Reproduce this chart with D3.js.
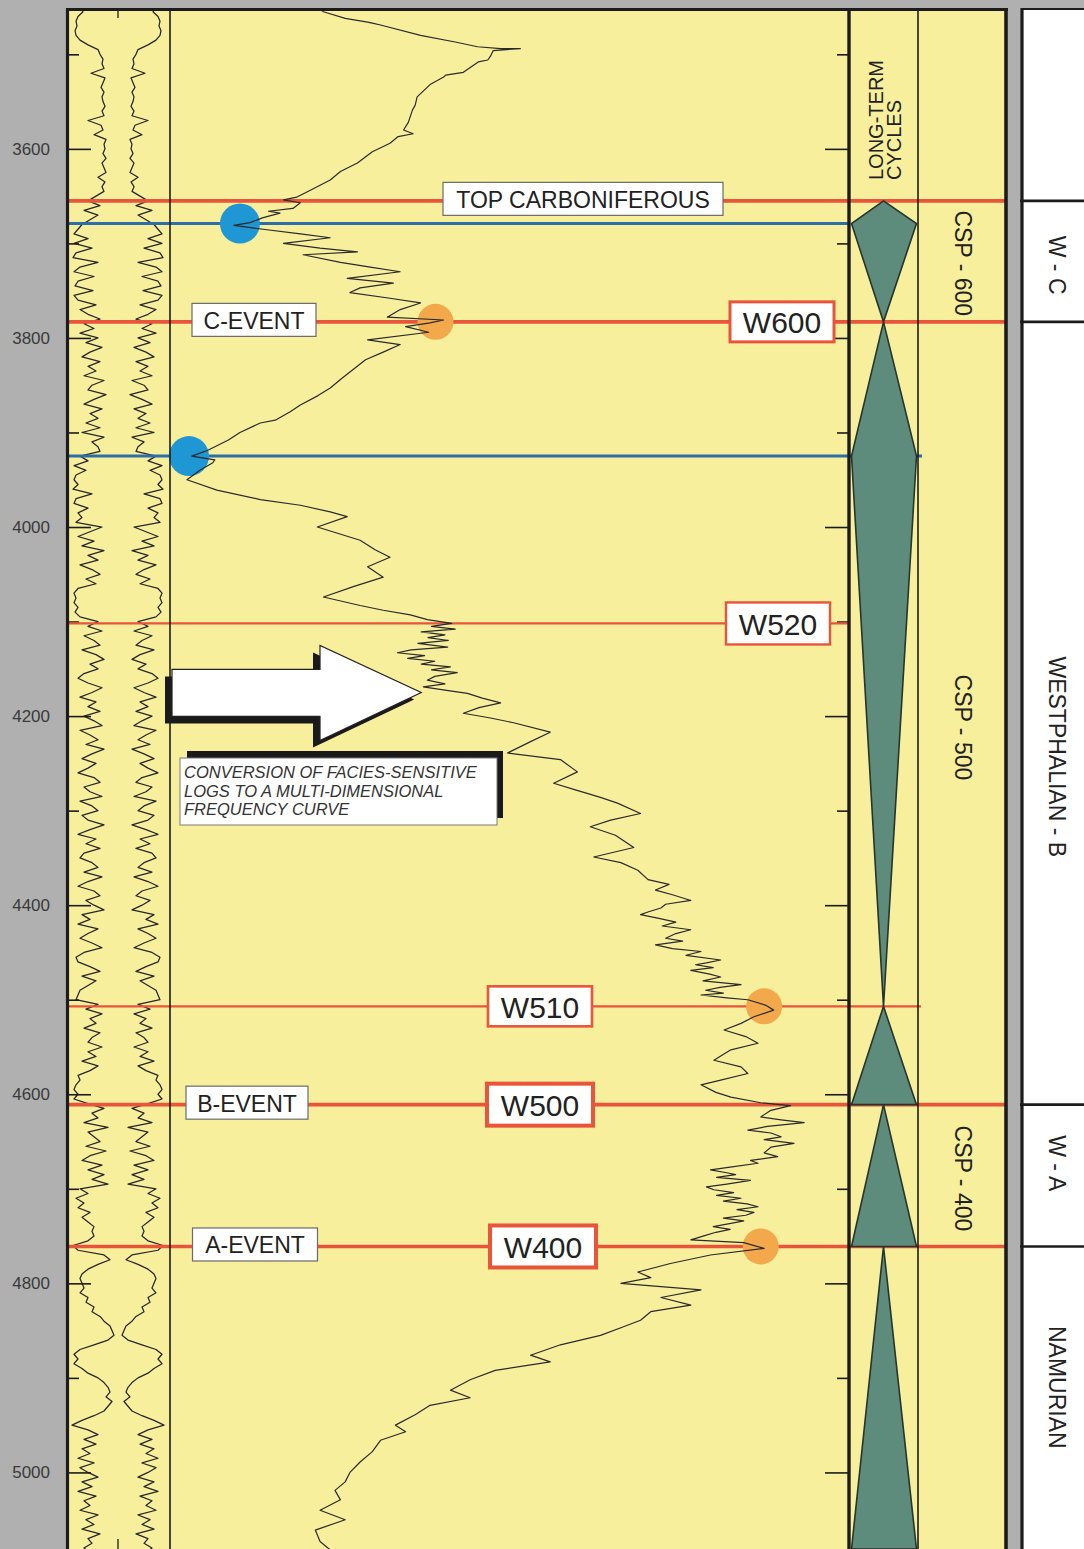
<!DOCTYPE html>
<html>
<head>
<meta charset="utf-8">
<script src="https://cdn.jsdelivr.net/npm/d3@7"></script>
<style>
  html, body { margin: 0; padding: 0; background: #b2b2b2; }
  svg { display: block; font-family: "Liberation Sans", Arial, sans-serif; }
</style>
</head>
<body>
<svg id="chart" width="1084" height="1549"></svg>
<script>
// ---------------------------------------------------------------
// Well section: facies log, frequency curve, long-term cycles,
// composite sequences (CSP) and chronostratigraphic stages.
// ---------------------------------------------------------------

// depth window of the section (m)
const depthRange = [3451, 5081];
const labelledDepths = [3600, 3800, 4000, 4200, 4400, 4600, 4800, 5000];
const unlabelledDepths = [3500, 3700, 3900, 4100, 4300, 4500, 4700, 4900];

// facies-sensitive log, sampled every 5 m from 3450 m (half-width, mirrored)
const logStart = 3450;
const logStep = 5;
const logValues = [
  38, 35, 40, 42, 41, 43, 42, 38, 30, 20,
  18, 15, 16, 14, 27, 13, 15, 17, 14, 16,
  15, 13, 16, 14, 30, 17, 15, 24, 12, 14,
  13, 15, 12, 16, 14, 12, 20, 13, 16, 14,
  22, 30, 18, 34, 20, 28, 36, 40, 44, 30,
  44, 26, 42, 45, 20, 38, 44, 24, 40, 43,
  25, 44, 40, 22, 38, 30, 18, 34, 24, 38,
  20, 32, 16, 28, 36, 18, 30, 22, 34, 14,
  26, 30, 12, 24, 34, 16, 28, 20, 32, 18,
  36, 14, 26, 20, 18, 38, 30, 44, 32, 42,
  44, 40, 45, 26, 42, 44, 30, 40, 36, 42,
  16, 28, 40, 24, 36, 14, 30, 20, 38, 26,
  18, 32, 22, 40, 44, 42, 44, 40, 43, 38,
  20, 30, 16, 34, 24, 18, 36, 22, 14, 28,
  20, 34, 40, 30, 16, 26, 38, 22, 30, 18,
  34, 24, 16, 38, 28, 20, 32, 14, 26, 36,
  22, 30, 40, 24, 18, 34, 28, 16, 38, 26,
  20, 36, 30, 14, 28, 40, 22, 32, 18, 34,
  38, 26, 20, 34, 16, 30, 40, 24, 18, 32,
  24, 14, 36, 28, 40, 20, 30, 38, 26, 16,
  34, 42, 40, 28, 18, 36, 22, 30, 38, 40,
  42, 20, 32, 16, 28, 22, 34, 18, 26, 30,
  16, 30, 22, 36, 20, 28, 40, 38, 42, 44,
  40, 44, 30, 14, 26, 20, 34, 10, 30, 24,
  18, 32, 12, 28, 36, 16, 30, 14, 26, 10,
  38, 30, 42, 34, 40, 28, 36, 30, 24, 26,
  24, 30, 45, 40, 14, 8, 20, 30, 36, 38,
  36, 34, 38, 30, 32, 24, 26, 18, 14, 8,
  6, 4, 10, 24, 38, 44, 40, 44, 36, 30,
  20, 14, 10, 8, 12, 6, 10, 14, 24, 36,
  46, 30, 20, 34, 22, 36, 28, 40, 24, 38,
  30, 20, 36, 26, 40, 22, 34, 28, 38, 20,
  32, 24, 36, 18, 30, 26, 34, 28
];

// multi-dimensional frequency curve (depth m, frequency units 0-100)
const freqDepth = [
  3451,3455,3462,3466,3467,3469,3480,3487,3492,3494,3494,3496,3502,3506,3508,3519,3522,3524,3532,3545,
  3554,3559,3572,3580,3584,3587,3594,3603,3615,3624,3633,3644,3651,3654,3657,3663,3666,3668,3673,3678,
  3681,3685,3690,3694,3700,3705,3709,3712,3720,3725,3730,3737,3742,3747,3752,3758,3763,3770,3778,3781,
  3784,3788,3794,3802,3807,3815,3823,3836,3844,3853,3861,3871,3878,3887,3890,3900,3908,3919,3925,3929,
  3932,3940,3950,3961,3971,3977,3984,3989,4000,4014,4024,4032,4042,4053,4063,4074,4083,4088,4093,4098,
  4102,4105,4108,4111,4114,4117,4120,4123,4127,4130,4133,4136,4139,4142,4145,4148,4151,4154,4158,4162,
  4166,4169,4173,4176,4181,4186,4191,4197,4202,4207,4217,4227,4239,4246,4259,
  4271,4278,4286,4292,4303,4310,4317,4326,4339,4349,4355,4363,4373,
  4378,4384,4389,4395,4399,4403,4407,4410,4414,4418,4422,4426,4430,4435,4438,4442,4446,4449,4453,4458,
  4461,4463,4466,4469,4473,4476,4480,4484,4487,4490,4493,4495,4498,4500,
  4506,4511,4518,4525,4532,4539,4546,4553,4564,4571,
  4578,4585,4590,4598,4603,4609,4612,4617,4624,
  4627,4630,4634,4638,4641,4645,4648,4652,4656,4662,4666,4670,4673,4677,4680,4683,4685,4688,4691,4695,
  4698,4701,4704,4707,4710,4713,4716,4719,4722,4725,4728,4731,4734,4736,4740,4743,4746,4750,4754,
  4757,4763,4770,4779,4788,4794,4800,4807,4815,4823,4830,4839,4847,4855,4865,
  4876,4883,4892,4902,4913,4921,4929,4939,4950,4957,4966,4978,4989,5000,5010,5019,5029,5040,5050,5061,
  5073,5082
];
const freqValue = [
  21.8,22.6,25.8,29.1,29.8,31.0,36.9,42.0,45.3,48.7,51.6,47.6,47.2,46.8,45.4,43.2,40.6,40.3,38.3,36.4,
  36.1,35.7,35.1,34.4,35.8,33.6,32.4,29.8,27.6,25.1,23.6,20.6,18.7,16.7,19.2,18.1,14.5,16.2,13.6,11.8,
  9.4,13.7,19.2,23.6,16.7,22.1,27.6,19.6,25.1,29.5,33.9,26.1,32.9,28.0,26.5,32.4,36.9,33.9,32.0,40.3,
  38.3,34.7,38.1,29.1,33.9,31.4,28.8,26.5,25.1,23.6,21.8,19.2,17.7,15.5,13.3,10.3,8.6,5.5,3.2,6.6,
  6.3,4.4,2.5,6.9,13.3,19.2,23.6,26.1,21.7,28.0,30.2,32.4,29.1,31.4,27.0,22.6,28.0,31.4,35.4,37.9,
  41.5,38.5,42.0,37.0,40.5,38.0,41.0,36.5,40.9,35.5,33.5,37.5,35.0,39.0,37.0,41.3,38.5,42.3,39.0,37.9,
  40.5,37.3,41.0,43.8,46.0,48.7,45.5,43.2,47.2,50.6,56.0,53.1,49.7,57.5,60.0,
  56.5,59.7,63.4,65.9,69.3,64.9,61.9,65.6,68.3,62.4,66.4,68.9,70.4,
  73.5,71.5,74.0,76.7,73.0,72.3,70.5,69.3,72.0,74.5,72.5,76.7,74.5,73.0,75.5,71.5,74.0,78.2,76.0,81.1,
  79.0,77.4,80.0,76.7,79.5,81.1,78.5,84.1,81.0,78.9,81.5,78.2,82.0,85.1,
  87.8,88.9,86.0,84.1,81.6,84.8,86.6,82.6,80.1,84.1,
  85.1,81.1,78.2,80.4,82.6,87.0,91.4,88.5,87.0,
  90.0,93.4,88.0,85.1,88.5,90.0,87.5,91.9,88.5,87.5,89.5,85.5,86.6,82.5,79.6,82.0,83.3,80.5,85.5,82.0,
  79.0,80.1,83.0,80.5,84.1,81.5,85.0,86.6,83.5,86.0,84.8,81.5,84.5,83.0,80.0,82.5,80.4,78.5,76.7,
  84.5,87.5,79.6,73.7,68.9,70.8,66.4,78.2,72.3,76.7,70.8,69.3,66.4,63.4,57.5,
  53.1,56.0,47.9,44.2,41.3,44.2,38.3,36.1,33.2,34.7,31.0,29.8,28.0,26.5,25.8,24.3,25.1,22.1,25.8,21.4,
  22.1,23.6
];

// correlation horizons
const horizonNames = ["TOP CARBONIFEROUS", "C-EVENT", "", "", "B-EVENT", "A-EVENT"];
const horizonCodes = ["", "W600", "W520", "W510", "W500", "W400"];
const horizonDepths = [3655, 3783, 4102, 4507, 4611, 4761];
const horizonRank = ["stage", "stage", "sequence", "cycle", "stage", "stage"];

// maximum flooding levels (blue) and regressive maxima (orange) on the curve
const floodDepths = [3679, 3925];
const floodValues = [10.3, 2.8];
const regressDepths = [3783, 4507, 4761];
const regressValues = [39.1, 87.5, 87.0];

// long-term cycles: top apex, widest level, base
const cycleTops = [3655, 3783, 4507, 4611, 4761];
const cycleWidest = [3679, 3925, 4611, 4761, 5081];
const cycleBases = [3783, 4507, 4611, 4761, 5081];

// composite sequences
const cspNames = ["CSP - 600", "CSP - 500", "CSP - 400"];
const cspLabelDepths = [3721, 4212, 4689];

// stages
const stageNames = ["W - C", "WESTPHALIAN - B", "W - A", "NAMURIAN"];
const stageLabelDepths = [3723, 4243, 4673, 4910];
const stageBoundaries = [3655, 3783, 4611, 4761];

// ---------------------------------------------------------------
const W = 1084, H = 1549;
const svg = d3.select("#chart");

const col = {
  logL: 67, logR: 170, freqR: 849, cycR: 918, cspR: 1006, stageL: 1022, top: 8
};
const y = d3.scaleLinear().domain(depthRange).range([col.top, H]);
const xF = d3.scaleLinear().domain([0, 100]).range([col.logR, col.freqR]);
const logMid = 118;
const xLogR = d3.scaleLinear().domain([0, 50]).range([logMid, logMid + 50]);
const xLogL = d3.scaleLinear().domain([0, 50]).range([logMid, logMid - 50]);
const cycMid = (col.freqR + col.cycR) / 2;
const xCyc = d3.scaleLinear().domain([-1, 1]).range([col.freqR + 2.5, col.cycR - 1.5]);

const RED = "#e8553b", BLUE = "#2b6ea8", INK = "#1c1c1c";

// backgrounds
svg.append("rect").attr("width", W).attr("height", H).attr("fill", "#b0b0b0");
svg.append("rect").attr("x", col.logL).attr("y", col.top)
  .attr("width", col.cspR - col.logL).attr("height", H - col.top).attr("fill", "#f7ef9c");
svg.append("rect").attr("x", col.stageL).attr("y", col.top)
  .attr("width", W - col.stageL).attr("height", H - col.top).attr("fill", "#ffffff");

// clips
const defs = svg.append("defs");
defs.append("clipPath").attr("id", "logClip").append("rect")
  .attr("x", col.logL + 1).attr("y", col.top).attr("width", col.logR - col.logL - 1).attr("height", H - col.top);
defs.append("clipPath").attr("id", "freqClip").append("rect")
  .attr("x", col.logR).attr("y", col.top).attr("width", col.freqR - col.logR).attr("height", H - col.top);

// facies log (mirrored about the column axis)
const logData = logValues.map((v, i) => [logStart + i * logStep, v]);
const gLog = svg.append("g").attr("clip-path", "url(#logClip)");
[xLogL, xLogR].forEach(sx => {
  gLog.append("path")
    .datum(logData)
    .attr("fill", "none").attr("stroke", "#262626").attr("stroke-width", 1.25)
    .attr("stroke-linejoin", "round")
    .attr("d", d3.line().x(d => sx(d[1])).y(d => y(d[0])));
});
gLog.append("line").attr("x1", logMid).attr("x2", logMid)
  .attr("y1", col.top).attr("y2", col.top + 10).attr("stroke", INK).attr("stroke-width", 1.3);
gLog.append("line").attr("x1", logMid).attr("x2", logMid)
  .attr("y1", H - 10).attr("y2", H).attr("stroke", INK).attr("stroke-width", 1.3);

// depth ticks
function tickAxis(axis, x, values, size) {
  const g = svg.append("g").attr("transform", `translate(${x},0)`)
    .call(axis(y).tickValues(values).tickSize(size).tickFormat(""));
  g.select(".domain").remove();
  g.selectAll(".tick line").attr("stroke", INK).attr("stroke-width", 1.6);
}
tickAxis(d3.axisRight, col.logL, labelledDepths, 24);
tickAxis(d3.axisRight, col.logL, unlabelledDepths, 12);
tickAxis(d3.axisLeft, col.freqR, labelledDepths, 24);
tickAxis(d3.axisLeft, col.freqR, unlabelledDepths, 12);

const gLab = svg.append("g").attr("transform", `translate(${col.logL},0)`)
  .call(d3.axisLeft(y).tickValues(labelledDepths).tickSize(0).tickPadding(17).tickFormat(d3.format("d")));
gLab.select(".domain").remove();
gLab.selectAll("text").attr("font-size", 17).attr("fill", "#3a3a3a")
  .attr("font-family", "'Liberation Sans', Arial, sans-serif");

// horizons
const rankStyle = {
  stage: { width: 3.6, x2: col.cspR },
  sequence: { width: 2.2, x2: col.freqR },
  cycle: { width: 2.2, x2: col.cycR + 3 }
};
horizonDepths.forEach((d, i) => {
  const s = rankStyle[horizonRank[i]];
  svg.append("line")
    .attr("x1", col.logL).attr("x2", s.x2)
    .attr("y1", y(d)).attr("y2", y(d))
    .attr("stroke", RED).attr("stroke-width", s.width);
});
// flooding lines
const floodEnds = [col.freqR, col.cycR + 4];
floodDepths.forEach((d, i) => {
  svg.append("line")
    .attr("x1", col.logL).attr("x2", floodEnds[i])
    .attr("y1", y(d)).attr("y2", y(d))
    .attr("stroke", BLUE).attr("stroke-width", 3);
});

// stage boundaries in the stage column
stageBoundaries.forEach(d => {
  svg.append("line")
    .attr("x1", col.stageL - 2).attr("x2", W)
    .attr("y1", y(d)).attr("y2", y(d))
    .attr("stroke", INK).attr("stroke-width", 2.6);
});

// markers on the curve
floodDepths.forEach((d, i) => {
  svg.append("circle").attr("cx", xF(floodValues[i])).attr("cy", y(d)).attr("r", 20)
    .attr("fill", "#1f97d4");
});
regressDepths.forEach((d, i) => {
  svg.append("circle").attr("cx", xF(regressValues[i])).attr("cy", y(d)).attr("r", 18)
    .attr("fill", "#f4a84c");
});

// frequency curve
const freqData = d3.zip(freqDepth, freqValue);
svg.append("g").attr("clip-path", "url(#freqClip)").append("path")
  .datum(freqData)
  .attr("fill", "none").attr("stroke", "#2a2a2a").attr("stroke-width", 1.2)
  .attr("stroke-linejoin", "round")
  .attr("d", d3.line().x(d => xF(d[1])).y(d => y(d[0])));

// long-term cycles
cycleTops.forEach((top, i) => {
  const pts = [[cycMid, y(top)], [xCyc(1), y(cycleWidest[i])]];
  if (cycleBases[i] > cycleWidest[i]) pts.push([cycMid, y(cycleBases[i])]);
  pts.push([xCyc(-1), y(cycleWidest[i])]);
  svg.append("polygon")
    .attr("points", pts.map(p => p.join(",")).join(" "))
    .attr("fill", "#5d8b7c").attr("stroke", "#26352d").attr("stroke-width", 1.6)
    .attr("stroke-linejoin", "miter");
});

// label boxes on horizons
const nameBox = {
  "TOP CARBONIFEROUS": { cx: 583, w: 280, fs: 23 },
  "C-EVENT": { cx: 254, w: 124, fs: 23 },
  "B-EVENT": { cx: 247, w: 122, fs: 23 },
  "A-EVENT": { cx: 255, w: 125, fs: 23 }
};
const codeBox = {
  "W600": { cx: 782, w: 104, h: 40, sw: 3 },
  "W520": { cx: 778, w: 104, h: 42, sw: 2.4 },
  "W510": { cx: 540, w: 104, h: 40, sw: 2.6 },
  "W500": { cx: 540, w: 106, h: 42, sw: 4 },
  "W400": { cx: 543, w: 106, h: 42, sw: 4 }
};
function box(cx, cy, w, h, stroke, sw, text, fs) {
  const g = svg.append("g");
  g.append("rect").attr("x", cx - w / 2).attr("y", cy - h / 2).attr("width", w).attr("height", h)
    .attr("fill", "#ffffff").attr("stroke", stroke).attr("stroke-width", sw);
  g.append("text").attr("x", cx).attr("y", cy + 1).attr("text-anchor", "middle")
    .attr("dominant-baseline", "central").attr("font-size", fs).attr("fill", "#222").text(text);
}
horizonDepths.forEach((d, i) => {
  const n = horizonNames[i];
  if (n) { const b = nameBox[n]; box(b.cx, y(d) - 2, b.w, 33, "#6a6a6a", 1.2, n, b.fs); }
  const c = horizonCodes[i];
  if (c) { const b = codeBox[c]; box(b.cx, y(d), b.w, b.h, RED, b.sw, c, 30); }
});

// conversion arrow
const ay = y(4175);
const arrow = [[172, ay - 23], [320, ay - 23], [320, ay - 47], [xF(37), ay], [320, ay + 48], [320, ay + 24], [172, ay + 24]];
svg.append("polygon").attr("points", arrow.map(p => [p[0] - 7, p[1] + 7].join(",")).join(" "))
  .attr("fill", "#1a1a1a");
svg.append("polygon").attr("points", arrow.map(p => p.join(",")).join(" "))
  .attr("fill", "#ffffff").attr("stroke", "#222").attr("stroke-width", 1.2);

// conversion note
const note = ["CONVERSION OF FACIES-SENSITIVE", "LOGS TO A MULTI-DIMENSIONAL", "FREQUENCY CURVE"];
svg.append("rect").attr("x", 187).attr("y", 751).attr("width", 316).attr("height", 67).attr("fill", "#1a1a1a");
svg.append("rect").attr("x", 180).attr("y", 758).attr("width", 317).attr("height", 67)
  .attr("fill", "#ffffff").attr("stroke", "#7a7a7a").attr("stroke-width", 1);
svg.append("text").attr("font-size", 16.5).attr("font-style", "italic").attr("fill", "#333")
  .selectAll("tspan").data(note).join("tspan")
  .attr("x", 184).attr("y", (d, i) => 778 + i * 18.5).text(d => d);

// long-term cycles header
const hdr = svg.append("text").attr("transform", `translate(0,180) rotate(-90)`)
  .attr("font-size", 20).attr("fill", "#222").attr("dominant-baseline", "central");
hdr.append("tspan").attr("x", 0).attr("y", 876).text("LONG-TERM");
hdr.append("tspan").attr("x", 0).attr("y", 894).text("CYCLES");

// CSP labels
cspNames.forEach((n, i) => {
  svg.append("text").attr("transform", `translate(${(col.cycR + col.cspR) / 2 + 1},${y(cspLabelDepths[i])}) rotate(90)`)
    .attr("text-anchor", "middle").attr("dominant-baseline", "central")
    .attr("font-size", 23).attr("fill", "#222").text(n);
});
// stage labels
stageNames.forEach((n, i) => {
  svg.append("text").attr("transform", `translate(${(col.stageL + W) / 2 + 4},${y(stageLabelDepths[i])}) rotate(90)`)
    .attr("text-anchor", "middle").attr("dominant-baseline", "central")
    .attr("font-size", 23).attr("fill", "#222").text(n);
});

// column frames
const frame = svg.append("g").attr("stroke", INK);
[[col.logL + 0.5, 3.2], [col.logR, 1.6], [col.freqR, 3.4], [col.cycR, 1.6], [col.cspR, 3.6], [col.stageL, 3.2]]
  .forEach(([x, w]) => frame.append("line").attr("x1", x).attr("x2", x).attr("y1", col.top).attr("y2", H).attr("stroke-width", w));
frame.append("line").attr("x1", col.logL - 1).attr("x2", col.cspR + 2).attr("y1", col.top + 1.5).attr("y2", col.top + 1.5).attr("stroke-width", 3.2);
frame.append("line").attr("x1", col.stageL - 1).attr("x2", W).attr("y1", col.top + 1).attr("y2", col.top + 1).attr("stroke-width", 2.2);
</script>
</body>
</html>
